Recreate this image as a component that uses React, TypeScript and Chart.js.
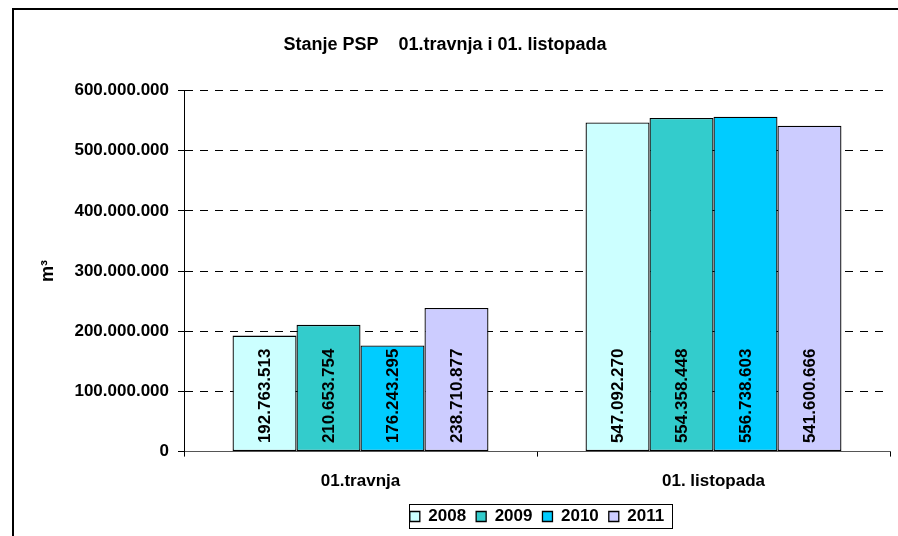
import React, { useEffect, useRef } from "react";
import { Chart, registerables } from "chart.js";

Chart.register(...registerables);

const categories = ["01.travnja", "01. listopada"];
const seriesLabels = ["2008", "2009", "2010", "2011"];
const values2008 = [192763513, 547092270];
const values2009 = [210653754, 554358448];
const values2010 = [176243295, 556738603];
const values2011 = [238710877, 541600666];
const seriesValues = [values2008, values2009, values2010, values2011];
const seriesColors = ["#CCFFFF", "#33CCCC", "#00CCFF", "#CCCCFF"];
const yTicks = [0, 100000000, 200000000, 300000000, 400000000, 500000000, 600000000];
const titleText = "Stanje PSP    01.travnja i 01. listopada";
const yTitle = "m³";

const FONT = '"Liberation Sans", Arial, sans-serif';

function fmt(v: number): string {
  return String(Math.round(v)).replace(/\B(?=(\d{3})+(?!\d))/g, ".");
}

const framePlugin = {
  id: "frame",
  beforeDraw(chart: any) {
    const ctx = chart.ctx;
    ctx.save();
    ctx.fillStyle = "#fff";
    ctx.fillRect(0, 0, chart.width, chart.height);
    ctx.fillStyle = "#000";
    ctx.fillRect(12, 8, chart.width - 12, 2);
    ctx.fillRect(12, 8, 2, chart.height - 8);
    ctx.restore();
  },
};

const labelPlugin = {
  id: "barLabels",
  afterDatasetsDraw(chart: any) {
    const ctx = chart.ctx;
    chart.data.datasets.forEach((ds: any, i: number) => {
      const meta = chart.getDatasetMeta(i);
      meta.data.forEach((el: any, j: number) => {
        const p = el.getProps(["x", "base"], true);
        ctx.save();
        ctx.translate(p.x, p.base - 8);
        ctx.rotate(-Math.PI / 2);
        ctx.textAlign = "left";
        ctx.textBaseline = "middle";
        ctx.font = "bold 17px " + FONT;
        ctx.fillStyle = "#000";
        ctx.fillText(fmt(ds.data[j]), 0, 1);
        ctx.restore();
      });
    });
  },
};

const legendBoxPlugin = {
  id: "legendBox",
  afterDraw(chart: any) {
    const lg = chart.legend;
    if (!lg || !lg.legendHitBoxes || !lg.legendHitBoxes.length) return;
    const hb = lg.legendHitBoxes;
    let l = Infinity, r = -Infinity, t = Infinity, b = -Infinity;
    hb.forEach((h: any) => {
      l = Math.min(l, h.left);
      r = Math.max(r, h.left + h.width);
      t = Math.min(t, h.top);
      b = Math.max(b, h.top + h.height);
    });
    const ctx = chart.ctx;
    ctx.save();
    ctx.strokeStyle = "#000";
    ctx.lineWidth = 1;
    ctx.strokeRect(Math.round(l - 1) + 0.5, Math.round(t - 4) + 0.5, Math.round(r - l + 9), Math.round(b - t + 7));
    ctx.restore();
  },
};

export default function App() {
  const ref = useRef<HTMLCanvasElement>(null);
  useEffect(() => {
    if (!ref.current) return;
    const chart = new Chart(ref.current, {
      type: "bar",
      data: {
        labels: categories,
        datasets: seriesLabels.map((s, i) => ({
          label: s,
          data: seriesValues[i],
          backgroundColor: seriesColors[i],
          borderColor: "#000000",
          borderWidth: 1.3,
          borderSkipped: false,
          categoryPercentage: 0.725,
          barPercentage: 1,
        })),
      },
      options: {
        animation: false,
        responsive: false,
        devicePixelRatio: 1,
        layout: { padding: { left: 0, right: 8, top: 0, bottom: 1 } },
        plugins: {
          title: {
            display: true,
            text: titleText,
            color: "#000",
            font: { family: FONT, size: 18, weight: "bold" },
            padding: { top: 34, bottom: 35 },
          },
          legend: {
            display: true,
            position: "bottom",
            fullSize: false,
            labels: {
              color: "#000",
              font: { family: FONT, size: 17, weight: "bold" },
              boxWidth: 10,
              boxHeight: 10,
              padding: 10,
            },
          },
          tooltip: { enabled: false },
        },
        scales: {
          x: {
            afterFit: (scale: any) => {
              scale.height = scale.height - 9;
            },
            grid: {
              display: true,
              drawOnChartArea: false,
              offset: true,
              tickLength: 5,
              tickColor: "#000",
            },
            border: { display: true, color: "#555", width: 1 },
            ticks: {
              color: "#000",
              font: { family: FONT, size: 17, weight: "bold" },
              padding: 15,
            },
          },
          y: {
            min: 0,
            max: 600000000,
            afterBuildTicks: (scale: any) => {
              scale.ticks = yTicks.map((v) => ({ value: v }));
            },
            afterFit: (scale: any) => {
              scale.width = 184;
            },
            grid: {
              color: "#000",
              lineWidth: 1,
              tickLength: 6,
              tickColor: "#000",
              tickBorderDash: [],
            },
            border: { display: true, color: "#000", width: 1, dash: [8, 7] },
            ticks: {
              color: "#000",
              font: { family: FONT, size: 17, weight: "bold" },
              padding: 9,
              callback: (v: any) => fmt(Number(v)),
            },
            title: {
              display: true,
              text: yTitle,
              color: "#000",
              font: { family: FONT, size: 18, weight: "bold" },
              padding: { top: 37, bottom: 0 },
            },
          },
        },
      },
      plugins: [framePlugin, labelPlugin, legendBoxPlugin],
    });
    return () => chart.destroy();
  }, []);
  return (
    <div style={{ position: "fixed", left: 0, top: 0, width: 898, height: 536, background: "#fff" }}>
      <canvas ref={ref} width={898} height={536} style={{ display: "block", width: 898, height: 536 }} />
    </div>
  );
}
